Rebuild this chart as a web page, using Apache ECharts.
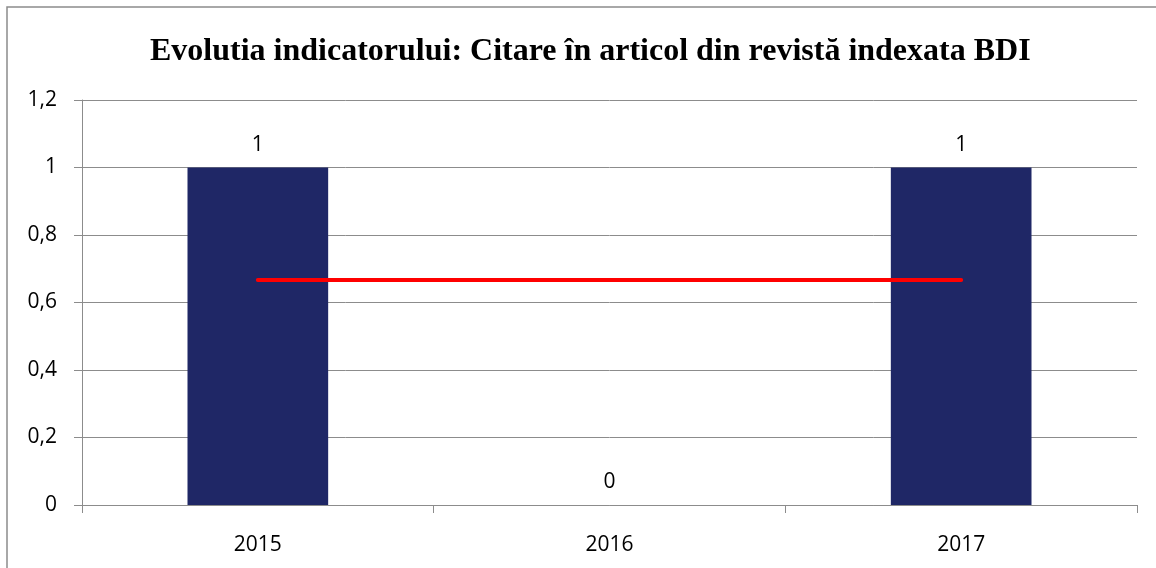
<!DOCTYPE html>
<html>
<head>
<meta charset="utf-8">
<script src="https://cdn.jsdelivr.net/npm/echarts@6/dist/echarts.min.js"></script>
<style>
  html, body { margin: 0; padding: 0; background: #fff; }
  #chart { width: 1156px; height: 568px; }
</style>
</head>
<body>
<div id="chart"></div>
<script>
// date din grafic
const years = ["2015", "2016", "2017"];
const values = [1, 0, 1];
const average = [0.667, 0.667, 0.667];

const myChart = echarts.init(document.getElementById("chart"));
const option = {
  animation: false,
  // rama graficului (doar sus si stanga sunt vizibile)
  graphic: [
    {
      type: "polyline",
      shape: { points: [[7, 568], [7, 7], [1156, 7]] },
      style: { fill: "none", stroke: "#8c8c8c", lineWidth: 1.5 },
    },
  ],
  title: {
    text: "Evolutia indicatorului: Citare în articol din revistă indexata BDI",
    left: 145,
    top: 31,
    textStyle: {
      fontFamily: "Liberation Serif",
      fontWeight: "bold",
      fontSize: 32,
      color: "#000",
    },
  },
  grid: { left: 82, right: 19, top: 100, bottom: 63 },
  xAxis: {
    type: "category",
    data: years,
    axisLine: { lineStyle: { color: "#8c8c8c", width: 1 } },
    axisTick: { show: true, length: 8, lineStyle: { color: "#8c8c8c" } },
    axisLabel: {
      fontFamily: "Open Sans",
      fontSize: 21,
      color: "#000",
      margin: 30,
    },
  },
  yAxis: {
    type: "value",
    min: 0,
    max: 1.2,
    interval: 0.2,
    axisLine: { show: true, lineStyle: { color: "#8c8c8c", width: 1 } },
    axisTick: { show: true, length: 8, lineStyle: { color: "#8c8c8c" } },
    splitLine: { lineStyle: { color: "#8c8c8c", width: 1 } },
    axisLabel: {
      fontFamily: "Open Sans",
      fontSize: 21,
      color: "#000",
      margin: 25,
      formatter: (v) => String(+v.toFixed(1)).replace(".", ","),
    },
  },
  series: [
    {
      type: "bar",
      data: values,
      barWidth: "40%",
      itemStyle: { color: "#1f2766" },
      label: {
        show: true,
        position: "top",
        distance: 12,
        fontFamily: "Open Sans",
        fontSize: 21,
        color: "#000",
      },
    },
    {
      type: "line",
      data: average,
      symbol: "none",
      lineStyle: { color: "#ff0000", width: 4, cap: "round" },
    },
  ],
};
myChart.setOption(option);
window.addEventListener("resize", function () {
  myChart.resize();
});
</script>
</body>
</html>
